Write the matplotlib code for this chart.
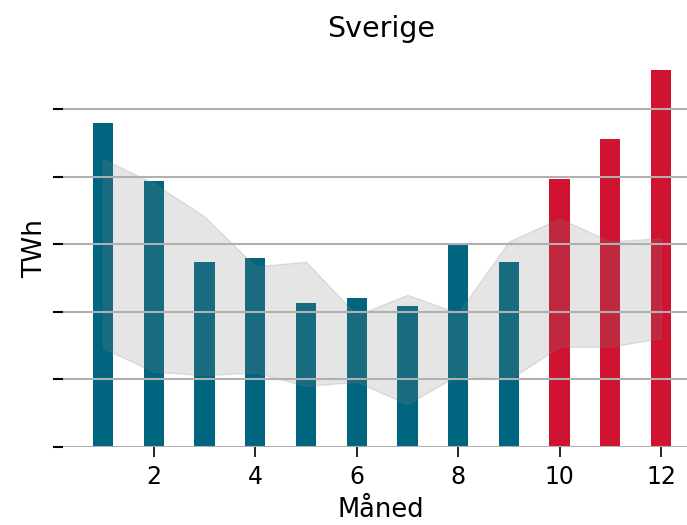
import matplotlib
matplotlib.use("Agg")
import matplotlib.pyplot as plt
import numpy as np

# Monthly values for Sweden (TWh scale units) and the historical min/max band
months = [1, 2, 3, 4, 5, 6, 7, 8, 9, 10, 11, 12]
values = [4.79, 3.93, 2.74, 2.79, 2.13, 2.20, 2.08, 2.99, 2.74, 3.96, 4.56, 5.58]
band_upper = [4.26, 3.90, 3.41, 2.67, 2.74, 1.95, 2.25, 1.98, 3.04, 3.38, 3.04, 3.09]
band_lower = [1.46, 1.11, 1.06, 1.10, 0.90, 0.96, 0.63, 1.06, 0.99, 1.48, 1.48, 1.61]
forecast_from = 10

teal = "#006680"
red = "#d01331"
bar_colors = [red if m >= forecast_from else teal for m in months]

fig = plt.figure(figsize=(6.87, 5.25), dpi=100)
# axes runs slightly past the right edge of the canvas
ax = fig.add_axes([0.0917, 0.149, 0.9258, 0.754])

ax.bar(months, values, width=0.4, color=bar_colors, zorder=1)
ax.fill_between(months, band_lower, band_upper, color="gray", alpha=0.2, zorder=2)

ax.set_xlim(0.21, 12.75)
ax.set_ylim(0, 5.86)
ax.set_yticks([0, 1, 2, 3, 4, 5])
ax.set_yticklabels([])
ax.set_xticks([2, 4, 6, 8, 10, 12])

ax.grid(axis="y", color="#b0b0b0", linewidth=1.5, zorder=3)
ax.set_axisbelow(False)
for s in ax.spines.values():
    s.set_visible(False)

ax.tick_params(axis="y", length=7, width=1.5, color="black", pad=3)
ax.tick_params(axis="x", length=7, width=1.2, color="black", labelsize=17, pad=6)

ax.set_title("Sverige", fontsize=20.5, pad=10)
ax.set_xlabel("Måned", fontsize=18.5, labelpad=6)
ax.set_ylabel("TWh", fontsize=19, labelpad=1)

fig.savefig("out.png", dpi=100)
